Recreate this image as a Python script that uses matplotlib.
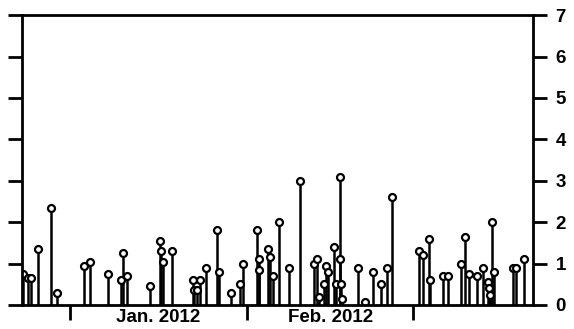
import numpy as np
import matplotlib.pyplot as plt

# days since 1 Jan 2012 and the stem heights
days = [-8.2, -7.3, -6.8, -5.6, -3.3, -2.3, 2.4, 3.5, 6.6, 8.9, 9.3, 10.0,
        14.0, 15.7, 15.9, 16.3, 17.8, 21.5, 21.7, 22.2, 22.7, 23.8, 25.7, 26.0,
        28.1, 29.7, 30.2, 32.7, 33.0, 33.1, 34.6, 35.0, 35.5, 36.5, 38.3, 40.2,
        42.7, 43.2, 43.5, 44.4, 44.8, 45.1, 46.2, 46.5, 47.2, 47.3, 47.4, 47.6,
        50.3, 51.6, 53.0, 54.4, 55.4, 56.3, 61.0, 61.7, 62.8, 62.9, 65.2, 66.1,
        68.4, 69.1, 69.8, 71.2, 72.2, 73.1, 73.3, 73.4, 73.8, 74.1, 77.4, 78.0,
        79.4]
values = [0.75, 0.65, 0.65, 1.35, 2.35, 0.3, 0.95, 1.05, 0.75, 0.6, 1.25, 0.7,
          0.45, 1.55, 1.3, 1.05, 1.3, 0.6, 0.35, 0.35, 0.6, 0.9, 1.8, 0.8,
          0.3, 0.5, 1.0, 1.8, 1.1, 0.85, 1.35, 1.15, 0.7, 2.0, 0.9, 3.0,
          1.0, 1.1, 0.2, 0.5, 0.95, 0.8, 1.4, 0.5, 3.1, 1.1, 0.5, 0.15,
          0.9, 0.08, 0.8, 0.5, 0.9, 2.6, 1.3, 1.2, 1.6, 0.6, 0.7, 0.7,
          1.0, 1.65, 0.75, 0.7, 0.9, 0.55, 0.4, 0.25, 2.0, 0.8, 0.9, 0.9,
          1.1]

month_ticks = [0, 31, 60]
month_label_pos = [15.5, 45.5]
month_labels = ['Jan. 2012', 'Feb. 2012']
y_ticks = [0, 1, 2, 3, 4, 5, 6, 7]

plt.rcParams['font.family'] = ['Liberation Sans', 'DejaVu Sans']

fig = plt.figure(figsize=(5.74, 3.29), dpi=100)
ax = fig.add_axes([0.038, 0.073, 0.891, 0.881])

markers, stems, base = ax.stem(days, values, basefmt=' ')
plt.setp(stems, color='black', linewidth=1.8)
plt.setp(markers, marker='o', markersize=5, markerfacecolor='white',
         markeredgecolor='black', markeredgewidth=1.6)

ax.set_xlim(-8.4, 81)
ax.set_ylim(0, 7)

for side in ['left', 'right', 'top', 'bottom']:
    ax.spines[side].set_linewidth(2)

ax.set_xticks(month_ticks)
ax.set_xticklabels([])
ax.set_xticks(month_label_pos, minor=True)
ax.set_xticklabels(month_labels, minor=True, fontsize=13.5, fontweight='bold')
ax.tick_params(axis='x', which='major', direction='out', length=11, width=2)
ax.tick_params(axis='x', which='minor', length=0, pad=3)

ax.set_yticks(y_ticks)
ax.tick_params(axis='y', which='major', direction='out', length=10, width=2,
               left=True, right=True, labelleft=False, labelright=True,
               labelsize=13.5, pad=6)
for lab in ax.get_yticklabels():
    lab.set_fontweight('bold')

fig.savefig('out.png', dpi=100)
